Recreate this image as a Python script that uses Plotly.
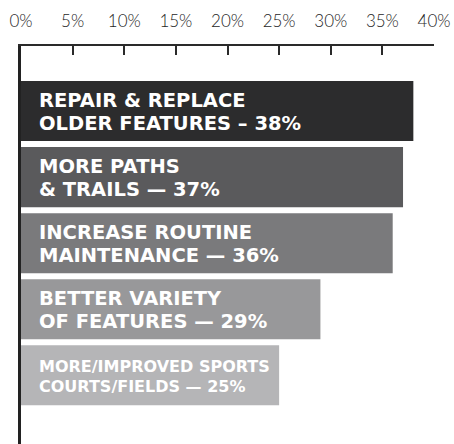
import plotly.graph_objects as go

categories = [
    "REPAIR & REPLACE<br>OLDER FEATURES – 38%",
    "MORE PATHS<br>& TRAILS — 37%",
    "INCREASE ROUTINE<br>MAINTENANCE — 36%",
    "BETTER VARIETY<br>OF FEATURES — 29%",
    "MORE/IMPROVED SPORTS<br>COURTS/FIELDS — 25%",
]
values = [38, 37, 36, 29, 25]
bar_colors = ["#2c2c2d", "#5a5a5c", "#7a7a7c", "#98989a", "#b5b5b7"]
label_sizes = [19.5, 19.5, 19.5, 19.5, 16]
line_gaps = [23, 23, 23, 23, 20]
tick_vals = [0, 5, 10, 15, 20, 25, 30, 35, 40]
tick_text = ["0%", "5%", "10%", "15%", "20%", "25%", "30%", "35%", "40%"]

idx = list(range(len(categories)))

fig = go.Figure()
fig.add_trace(go.Bar(
    x=values, y=idx, orientation="h",
    marker=dict(color=bar_colors, line=dict(width=0)),
    width=0.91, hoverinfo="skip",
))

for i, (c, s, g) in enumerate(zip(categories, label_sizes, line_gaps)):
    lines = c.split("<br>")
    for j, ln in enumerate(lines):
        fig.add_annotation(
            x=0, y=i, xref="x", yref="y", text=ln, showarrow=False,
            xanchor="left", yanchor="middle", align="left", xshift=16,
            yshift=(0.5 - j) * g - 1,
            font=dict(family="DejaVu Sans", size=s, color="white", weight="bold"),
        )

fig.update_layout(
    width=454, height=444,
    margin=dict(l=21, r=20, t=46, b=0),
    paper_bgcolor="white", plot_bgcolor="white",
    showlegend=False,
    xaxis=dict(
        side="top", range=[0, 40], tickvals=tick_vals, ticktext=tick_text,
        ticks="inside", ticklen=9, tickwidth=2, tickcolor="#2a2a2a",
        showline=True, linewidth=2, linecolor="#2a2a2a",
        showgrid=False, zeroline=False, ticklabelstandoff=10,
        automargin=False,
        tickfont=dict(family="Lato", size=17, color="#1e1e1e", weight=300),
    ),
    yaxis=dict(
        range=[5.04, -0.985], showticklabels=False, ticks="",
        showline=True, linewidth=2.5, linecolor="#222222",
        showgrid=False, zeroline=False, automargin=False,
    ),
)

fig.write_html(
    "out.html",
    config={"displayModeBar": False},
    post_script="document.body.style.margin='0';document.body.style.overflow='hidden';",
)
